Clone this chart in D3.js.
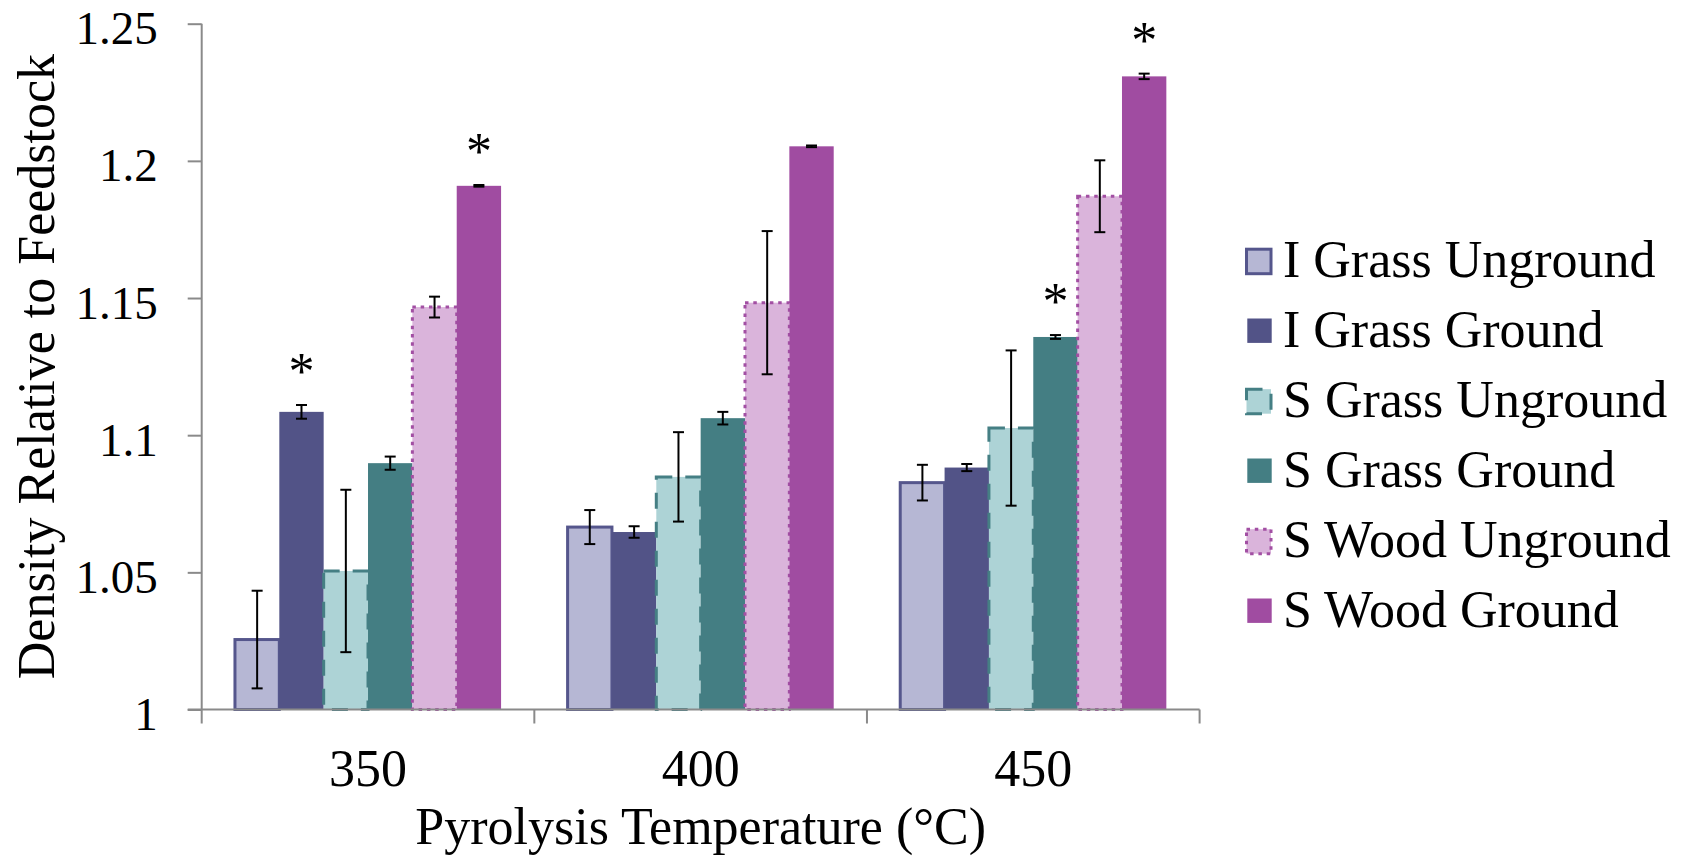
<!DOCTYPE html>
<html>
<head>
<meta charset="utf-8">
<script src="https://cdnjs.cloudflare.com/ajax/libs/d3/7.8.5/d3.min.js"></script>
<style>
  html, body { margin: 0; padding: 0; background: #fff; }
  svg text { font-family: "Liberation Serif", "Times New Roman", serif; fill: #000; }
</style>
</head>
<body>
<svg id="vis-svg" width="1690" height="857"></svg>
<script>
// chart data
const categories = ["350", "400", "450"];
const seriesNames = ["I Grass Unground", "I Grass Ground", "S Grass Unground",
                     "S Grass Ground", "S Wood Unground", "S Wood Ground"];
const iGrassUnground = [1.0255, 1.0665, 1.0827];
const iGrassGround   = [1.1085, 1.0647, 1.0882];
const sGrassUnground = [1.0505, 1.0848, 1.1026];
const sGrassGround   = [1.0898, 1.1062, 1.1358];
const sWoodUnground  = [1.1467, 1.1483, 1.1871];
const sWoodGround    = [1.1909, 1.2053, 1.2308];
const iGrassUngroundErr = [0.0178, 0.0062, 0.0065];
const iGrassGroundErr   = [0.0025, 0.0021, 0.0013];
const sGrassUngroundErr = [0.0296, 0.0163, 0.0283];
const sGrassGroundErr   = [0.0024, 0.0023, 0.0007];
const sWoodUngroundErr  = [0.0038, 0.0261, 0.0131];
const sWoodGroundErr    = [0.0003, 0.0003, 0.0010];
// which bars carry a significance star
const significant = [
  [false, false, false],
  [true,  false, false],
  [false, false, false],
  [false, false, true],
  [false, false, false],
  [true,  false, true]
];
const yTicks = [1, 1.05, 1.1, 1.15, 1.2, 1.25];
const yTickLabels = ["1", "1.05", "1.1", "1.15", "1.2", "1.25"];

const values = [iGrassUnground, iGrassGround, sGrassUnground, sGrassGround, sWoodUnground, sWoodGround];
const errors = [iGrassUngroundErr, iGrassGroundErr, sGrassUngroundErr, sGrassGroundErr, sWoodUngroundErr, sWoodGroundErr];

// styles per series
const styles = [
  {fill: "#b6b7d4", stroke: "#55568c", dash: null},
  {fill: "#525387", stroke: "none",    dash: null},
  {fill: "#add3d6", stroke: "#457f84", dash: "16,13"},
  {fill: "#447e83", stroke: "none",    dash: null},
  {fill: "#dab4db", stroke: "#a24fa3", dash: "3.5,4.8"},
  {fill: "#a04ca1", stroke: "none",    dash: null}
];

const plot = {left: 201.7, right: 1199.6, top: 23.7, bottom: 709.5};
const axisColor = "#8a8a8a";

const svg = d3.select("#vis-svg");

const x0 = d3.scaleBand().domain(categories).range([plot.left, plot.right]).padding(0);
const x1 = d3.scaleBand().domain(seriesNames).range([0, x0.bandwidth()])
    .paddingInner(0).paddingOuter(0.75);
const y = d3.scaleLinear().domain([1, 1.25]).range([plot.bottom, plot.top]);

// flatten
const rows = [];
seriesNames.forEach((s, si) => {
  categories.forEach((c, ci) => {
    rows.push({series: s, si: si, cat: c, v: values[si][ci], e: errors[si][ci], sig: significant[si][ci]});
  });
});

// bars
const bars = svg.append("g");
seriesNames.forEach((s, si) => {
  const st = styles[si];
  bars.append("g").selectAll("rect")
    .data(rows.filter(r => r.si === si))
    .enter().append("rect")
    .attr("x", d => x0(d.cat) + x1(d.series))
    .attr("y", d => y(d.v))
    .attr("width", x1.bandwidth())
    .attr("height", d => y(1) - y(d.v))
    .attr("fill", st.fill)
    .attr("stroke", st.stroke)
    .attr("stroke-width", st.stroke === "none" ? 0 : 3)
    .attr("stroke-dasharray", st.dash);
});

// axes
const yAxis = d3.axisLeft(y).tickValues(yTicks).tickSize(14).tickPadding(30)
    .tickFormat((d, i) => yTickLabels[i]);
const gy = svg.append("g").attr("transform", `translate(${plot.left},0)`).call(yAxis);
gy.select(".domain").remove();
gy.append("line").attr("x1", 0).attr("x2", 0).attr("y1", plot.top).attr("y2", plot.bottom);
gy.selectAll("line").attr("stroke", axisColor).attr("stroke-width", 2);
gy.selectAll("text").attr("font-size", 47).attr("dy", null).attr("y", 20)
  .style("font-family", '"Liberation Serif", serif').attr("fill", "#000");

// x axis baseline and boundary ticks
const gx = svg.append("g");
gx.append("line").attr("x1", plot.left - 14).attr("x2", plot.right)
  .attr("y1", plot.bottom).attr("y2", plot.bottom)
  .attr("stroke", axisColor).attr("stroke-width", 2);
const bounds = categories.map(c => x0(c)).concat([x0.range()[1]]);
gx.selectAll("line.b").data(bounds).enter().append("line").attr("class", "b")
  .attr("x1", d => d).attr("x2", d => d)
  .attr("y1", plot.bottom).attr("y2", plot.bottom + 14)
  .attr("stroke", axisColor).attr("stroke-width", 2);
gx.selectAll("text").data(categories).enter().append("text")
  .attr("x", d => x0(d) + x0.bandwidth() / 2)
  .attr("y", 786)
  .attr("text-anchor", "middle")
  .attr("font-size", 52)
  .text(d => d);

// error bars
const eg = svg.append("g").attr("stroke", "#000").attr("stroke-width", 2);
rows.forEach(d => {
  const cx = x0(d.cat) + x1(d.series) + x1.bandwidth() / 2;
  const y1 = y(d.v + d.e), y2 = y(d.v - d.e);
  eg.append("line").attr("x1", cx).attr("x2", cx).attr("y1", y1).attr("y2", y2);
  eg.append("line").attr("x1", cx - 5.5).attr("x2", cx + 5.5).attr("y1", y1).attr("y2", y1);
  eg.append("line").attr("x1", cx - 5.5).attr("x2", cx + 5.5).attr("y1", y2).attr("y2", y2);
});

// significance stars
svg.append("g").selectAll("text")
  .data(rows.filter(r => r.sig))
  .enter().append("text")
  .attr("x", d => x0(d.cat) + x1(d.series) + x1.bandwidth() / 2)
  .attr("y", d => y(d.v + d.e) - 16)
  .attr("text-anchor", "middle")
  .attr("font-size", 52)
  .text("*");

// axis titles
svg.append("text")
  .attr("x", (plot.left + plot.right) / 2)
  .attr("y", 844)
  .attr("text-anchor", "middle")
  .attr("font-size", 52)
  .text("Pyrolysis Temperature (°C)");
svg.append("text")
  .attr("transform", `translate(54,${(plot.top + plot.bottom) / 2}) rotate(-90)`)
  .attr("text-anchor", "middle")
  .attr("font-size", 52)
  .text("Density Relative to Feedstock");

// legend
const legend = svg.append("g");
seriesNames.forEach((s, si) => {
  const st = styles[si];
  const base = 276.7 + si * 70;
  const cy = base - 16;
  const item = legend.append("g");
  if (st.stroke === "none") {
    item.append("rect").attr("x", 1247.3).attr("y", cy - 12.2).attr("width", 24.4).attr("height", 24.4)
      .attr("fill", st.fill);
  } else {
    item.append("rect").attr("x", 1246.5).attr("y", cy - 11.5).attr("width", 24.5).attr("height", 24.5)
      .attr("fill", st.fill).attr("stroke", st.stroke).attr("stroke-width", 3)
      .attr("stroke-dasharray", st.dash);
  }
  item.append("text").attr("x", 1283).attr("y", base).attr("font-size", 52).text(s);
});
</script>
</body>
</html>
